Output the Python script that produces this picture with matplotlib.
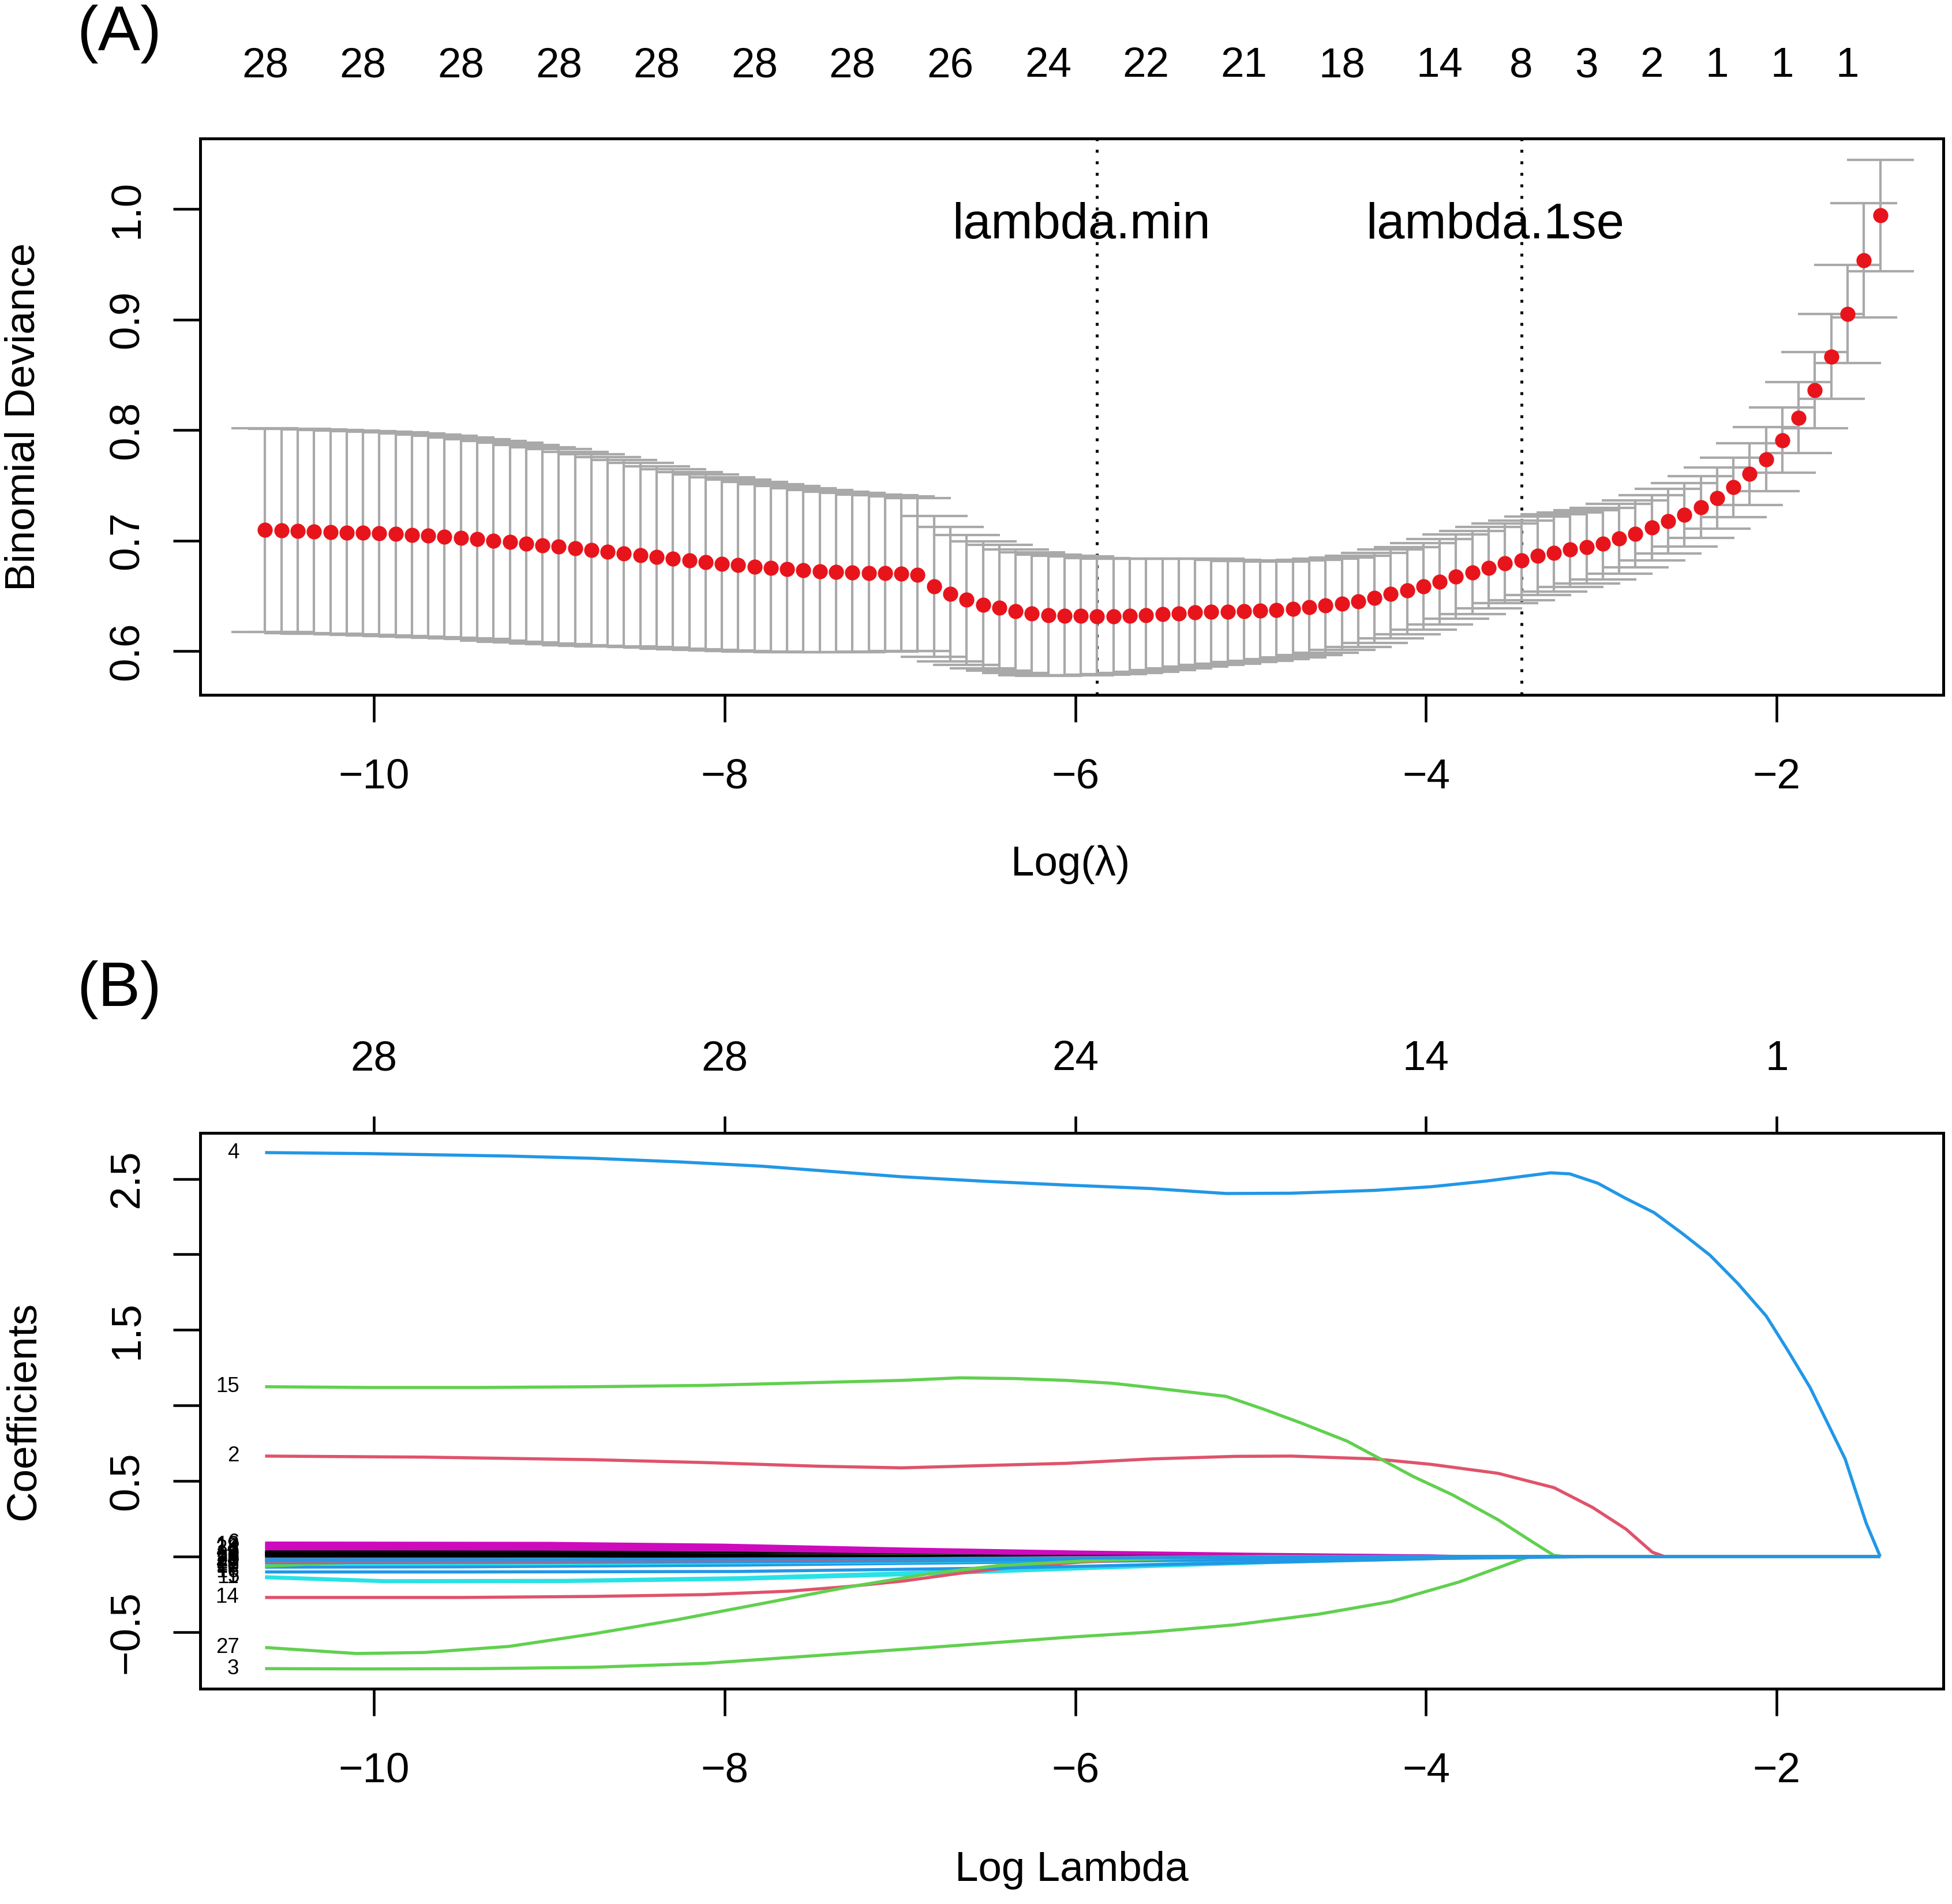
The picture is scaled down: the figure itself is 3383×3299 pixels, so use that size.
import numpy as np
import matplotlib
matplotlib.use("Agg")
import matplotlib.pyplot as plt

plt.rcParams['font.family'] = ['Liberation Sans', 'DejaVu Sans']

# ---------------- data: cross-validation curve (panel A) ----------------
LOG_LAMBDA_START = -10.62
LOG_LAMBDA_END = -1.41
N_LAMBDA = 100
log_lambda = np.linspace(LOG_LAMBDA_START, LOG_LAMBDA_END, N_LAMBDA)

cv_mean = [
    0.7096, 0.7092, 0.7087, 0.7081, 0.7078, 0.7073, 0.7069, 0.7064, 0.7059, 0.7052,
    0.7043, 0.7034, 0.7024, 0.7014, 0.6999, 0.6986, 0.6972, 0.6958, 0.6944, 0.6930,
    0.6916, 0.6900, 0.6885, 0.6869, 0.6852, 0.6834, 0.6819, 0.6805, 0.6791, 0.6777,
    0.6765, 0.6753, 0.6742, 0.6732, 0.6724, 0.6718, 0.6712, 0.6707, 0.6704, 0.6699,
    0.6691, 0.6585, 0.6516, 0.6465, 0.6417, 0.6391, 0.6361, 0.6338, 0.6324, 0.6322,
    0.6318, 0.6315, 0.6316, 0.6320, 0.6324, 0.6333, 0.6342, 0.6350, 0.6356, 0.6357,
    0.6359, 0.6364, 0.6370, 0.6382, 0.6396, 0.6411, 0.6429, 0.6451, 0.6481, 0.6516,
    0.6547, 0.6585, 0.6628, 0.6673, 0.6712, 0.6754, 0.6793, 0.6823, 0.6862, 0.6889,
    0.6919, 0.6943, 0.6973, 0.7018, 0.7063, 0.7116, 0.7177, 0.7233, 0.7302, 0.7383,
    0.7482, 0.7602, 0.7737, 0.7908, 0.8112, 0.8361, 0.8666, 0.9050, 0.9536, 0.9941,
]
cv_sd = [
    0.0921, 0.0920, 0.0922, 0.0923, 0.0922, 0.0923, 0.0922, 0.0921, 0.0920, 0.0918,
    0.0916, 0.0913, 0.0909, 0.0905, 0.0903, 0.0899, 0.0895, 0.0888, 0.0882, 0.0875,
    0.0866, 0.0856, 0.0843, 0.0834, 0.0822, 0.0812, 0.0802, 0.0792, 0.0783, 0.0776,
    0.0767, 0.0759, 0.0751, 0.0743, 0.0735, 0.0726, 0.0720, 0.0711, 0.0707, 0.0699,
    0.0692, 0.0638, 0.0607, 0.0587, 0.0574, 0.0570, 0.0561, 0.0555, 0.0548, 0.0542,
    0.0538, 0.0529, 0.0523, 0.0517, 0.0510, 0.0505, 0.0497, 0.0489, 0.0479, 0.0470,
    0.0459, 0.0451, 0.0442, 0.0437, 0.0432, 0.0426, 0.0420, 0.0414, 0.0408, 0.0402,
    0.0396, 0.0390, 0.0385, 0.0382, 0.0375, 0.0367, 0.0360, 0.0360, 0.0357, 0.0349,
    0.0337, 0.0330, 0.0324, 0.0315, 0.0303, 0.0295, 0.0292, 0.0289, 0.0280, 0.0277,
    0.0270, 0.0278, 0.0288, 0.0295, 0.0322, 0.0345, 0.0382, 0.0442, 0.0519, 0.0505,
]
IDX_MIN = 51
IDX_1SE = 77

# number of non-zero coefficients shown on the top axis of panel A
nz_label_idx = [0, 6, 12, 18, 24, 30, 36, 42, 48, 54, 60, 66, 72, 77, 81, 85, 89, 93, 97]
nz_labels = [28, 28, 28, 28, 28, 28, 28, 26, 24, 22, 21, 18, 14, 8, 3, 2, 1, 1, 1]

# ---------------- data: coefficient paths (panel B) ----------------
b_top_ticks = [-10, -8, -6, -4, -2]
b_top_df = [28, 28, 24, 14, 1]

coef_4 = ([-10.62, -10.03, -9.23, -8.75, -8.27, -7.79, -7.47, -6.99, -6.50, -6.05, -5.57,
           -5.14, -4.77, -4.29, -3.97, -3.66, -3.29, -3.18, -3.02, -2.86, -2.70, -2.54,
           -2.38, -2.22, -2.06, -1.94, -1.81, -1.71, -1.61, -1.49, -1.41],
          [2.674, 2.667, 2.651, 2.636, 2.613, 2.584, 2.556, 2.514, 2.483, 2.459, 2.436,
           2.403, 2.405, 2.424, 2.448, 2.485, 2.540, 2.533, 2.471, 2.370, 2.277, 2.140,
           1.994, 1.805, 1.592, 1.370, 1.119, 0.883, 0.646, 0.221, 0.0])
coef_15 = ([-10.62, -10.03, -9.39, -8.75, -8.11, -7.47, -6.99, -6.66, -6.34, -6.05, -5.79,
            -5.57, -5.14, -4.93, -4.71, -4.45, -4.26, -4.07, -3.85, -3.59, -3.40, -3.27, -3.21],
           [1.124, 1.119, 1.119, 1.124, 1.133, 1.152, 1.166, 1.183, 1.178, 1.166, 1.147,
            1.119, 1.060, 0.977, 0.883, 0.764, 0.646, 0.528, 0.409, 0.244, 0.102, 0.007, 0.0])
coef_2 = ([-10.62, -9.71, -8.75, -8.11, -7.47, -6.99, -6.50, -6.05, -5.57, -5.09, -4.77,
           -4.29, -3.97, -3.59, -3.27, -3.05, -2.86, -2.71, -2.64],
          [0.665, 0.658, 0.641, 0.622, 0.598, 0.587, 0.603, 0.617, 0.646, 0.663, 0.665,
           0.646, 0.610, 0.551, 0.456, 0.325, 0.182, 0.029, 0.0])
coef_27 = ([-10.62, -10.10, -9.71, -9.23, -8.75, -8.27, -7.79, -7.31, -6.82, -6.44, -5.96,
            -5.41, -4.90],
           [-0.602, -0.642, -0.635, -0.595, -0.512, -0.418, -0.312, -0.205, -0.111, -0.060,
            -0.030, -0.010, 0.0])
coef_3 = ([-10.62, -10.03, -9.39, -8.75, -8.11, -7.47, -6.82, -6.05, -5.57, -5.09, -4.61,
           -4.20, -3.81, -3.56, -3.45, -3.40],
          [-0.742, -0.744, -0.742, -0.733, -0.707, -0.655, -0.601, -0.535, -0.500, -0.452,
           -0.381, -0.298, -0.168, -0.062, -0.015, 0.0])
coef_14 = ([-10.62, -9.50, -8.75, -8.11, -7.63, -7.31, -6.98, -6.66, -6.34, -5.96, -5.40, -4.90],
           [-0.271, -0.271, -0.264, -0.252, -0.229, -0.200, -0.162, -0.111, -0.069, -0.036,
            -0.010, 0.0])

coef_small = {
    1:  ([-10.62, -9.0, -8.0, -7.0, -6.0], [0.032, 0.031, 0.026, 0.014, 0.0]),
    5:  ([-10.62, -9.94, -8.9, -7.9, -6.9, -5.9, -4.9, -3.9, -3.35],
         [-0.134, -0.160, -0.158, -0.140, -0.105, -0.065, -0.030, -0.008, 0.0]),
    6:  ([-10.62, -9.0, -8.0, -7.0, -6.0, -5.0, -4.0, -3.9],
         [0.089, 0.087, 0.075, 0.050, 0.030, 0.015, 0.004, 0.0]),
    7:  ([-10.62, -9.0, -8.0, -7.0, -6.0, -5.0, -4.7],
         [0.025, 0.025, 0.022, 0.016, 0.009, 0.003, 0.0]),
    8:  ([-10.62, -9.0, -8.0, -7.0, -6.0, -5.0, -4.0],
         [-0.008, -0.008, -0.007, -0.006, -0.004, -0.002, 0.0]),
    9:  ([-10.62, -9.0, -8.0, -7.0, -6.3], [0.012, 0.012, 0.010, 0.004, 0.0]),
    10: ([-10.62, -9.5, -7.93, -5.91, -4.40, -3.65, -3.30],
         [-0.070, -0.068, -0.057, -0.032, -0.013, -0.004, 0.0]),
    11: ([-10.62, -9.94, -8.9, -7.9, -6.9, -5.9, -4.9, -3.9, -3.25],
         [-0.140, -0.166, -0.165, -0.150, -0.118, -0.078, -0.040, -0.012, 0.0]),
    12: ([-10.62, -9.0, -8.0, -7.0, -6.0, -5.0, -4.0, -3.8],
         [0.076, 0.074, 0.064, 0.043, 0.025, 0.012, 0.003, 0.0]),
    13: ([-10.62, -9.0, -8.0, -7.0], [0.020, 0.018, 0.010, 0.0]),
    16: ([-10.62, -9.5, -7.93, -6.42, -4.91, -3.9, -3.0],
         [-0.102, -0.102, -0.099, -0.076, -0.038, -0.012, 0.0]),
    17: ([-10.62, -9.0, -7.0, -5.0, -4.2], [-0.050, -0.048, -0.035, -0.012, 0.0]),
    18: ([-10.62, -9.0, -8.0, -7.0, -6.0, -5.0, -4.0, -3.7],
         [0.064, 0.062, 0.054, 0.036, 0.021, 0.010, 0.002, 0.0]),
    19: ([-10.62, -9.0, -8.0, -7.0, -6.6], [0.010, 0.009, 0.006, 0.002, 0.0]),
    20: ([-10.62, -9.0, -8.0, -7.0, -6.0, -5.0, -4.4],
         [-0.018, -0.018, -0.016, -0.012, -0.007, -0.003, 0.0]),
    21: ([-10.62, -9.94, -8.93, -7.9, -6.9, -5.0, -3.55],
         [-0.064, -0.028, -0.015, -0.008, -0.004, -0.002, 0.0]),
    22: ([-10.62, -9.0, -7.0, -5.0, -4.0, -3.5], [-0.040, -0.038, -0.030, -0.015, -0.005, 0.0]),
    23: ([-10.62, -9.0, -7.0, -5.8], [-0.030, -0.028, -0.015, 0.0]),
    24: ([-10.62, -9.0, -8.0, -7.0, -6.0, -5.0, -4.0, -3.6],
         [0.051, 0.050, 0.044, 0.030, 0.017, 0.008, 0.002, 0.0]),
    25: ([-10.62, -9.0, -8.0, -6.8], [0.004, 0.004, 0.002, 0.0]),
    26: ([-10.62, -9.0, -8.0, -7.0, -6.0, -5.3], [-0.030, -0.030, -0.026, -0.016, -0.006, 0.0]),
    28: ([-10.62, -9.0, -7.0, -5.0, -4.3], [-0.020, -0.019, -0.014, -0.005, 0.0]),
}
coef_paths = dict(coef_small)
coef_paths.update({2: coef_2, 3: coef_3, 4: coef_4, 14: coef_14, 15: coef_15, 27: coef_27})

# R matplot default colours 1:6
PALETTE = ['#000000', '#DF536B', '#61D04F', '#2297E6', '#28E2E5', '#CD0BBC']

# ---------------- figure ----------------
W, H = 3383, 3299
DPI = 300
fig = plt.figure(figsize=(W / DPI, H / DPI), dpi=DPI)
fig.patch.set_facecolor('white')

FS = 17.5
XLIM = (-10.99, -1.05)
LEFT, WIDTH = 347 / W, (3368 - 347) / W


def style_axes(ax):
    for s in ax.spines.values():
        s.set_linewidth(1.2)
        s.set_color('black')
    ax.tick_params(direction='out', length=11.3, width=1.1, labelsize=FS, colors='black')
    ax.tick_params(axis='x', pad=15.0)
    ax.tick_params(axis='y', pad=11.0)
    ax.set_xlim(*XLIM)


# ---- Panel A ----
axA = fig.add_axes([LEFT, 1 - 1204 / H, WIDTH, (1204 - 240) / H])
style_axes(axA)
axA.set_ylim(0.5604, 1.0638)
axA.set_xticks([-10, -8, -6, -4, -2])
axA.set_yticks([0.6, 0.7, 0.8, 0.9, 1.0])
axA.set_yticklabels(['0.6', '0.7', '0.8', '0.9', '1.0'], rotation=90, va='center')

axA.errorbar(log_lambda, cv_mean, yerr=cv_sd, fmt='none', ecolor='#A9A9A9',
             elinewidth=1.0, capsize=14, capthick=1.0, zorder=2)
axA.plot(log_lambda, cv_mean, 'o', color='#E8141C', ms=6.3, mec='none', zorder=3)

for idx in (IDX_MIN, IDX_1SE):
    axA.axvline(log_lambda[idx], color='black', lw=1.2, ls=(0, (1, 3)), zorder=1)
axA.text(log_lambda[IDX_MIN] - 0.09, 0.985, 'lambda.min', ha='center', va='center',
         fontsize=20.8)
axA.text(log_lambda[IDX_1SE] - 0.15, 0.985, 'lambda.1se', ha='center', va='center',
         fontsize=20.8)

secA = axA.secondary_xaxis('top')
secA.set_xticks(log_lambda[nz_label_idx], labels=[str(n) for n in nz_labels])
secA.tick_params(length=0, pad=22.0, labelsize=FS)
for s in secA.spines.values():
    s.set_visible(False)

# ---- Panel B ----
axB = fig.add_axes([LEFT, 1 - 2926 / H, WIDTH, (2926 - 1963) / H])
style_axes(axB)
axB.set_ylim(-0.875, 2.804)
axB.set_xticks([-10, -8, -6, -4, -2])
axB.set_yticks([-0.5, 0.0, 0.5, 1.0, 1.5, 2.0, 2.5])
axB.set_yticklabels(['\u22120.5', '', '0.5', '', '1.5', '', '2.5'], rotation=90, va='center')

for k in sorted(coef_paths):
    xs, ys = coef_paths[k]
    xs = list(xs)
    ys = list(ys)
    if xs[-1] < LOG_LAMBDA_END:
        xs.append(LOG_LAMBDA_END)
        ys.append(0.0)
    axB.plot(xs, ys, color=PALETTE[(k - 1) % 6], lw=1.3, solid_joinstyle='round',
             solid_capstyle='butt', zorder=2)

for k in sorted(coef_paths):
    xs, ys = coef_paths[k]
    axB.annotate(str(k), xy=(xs[0], ys[0]), xytext=(-10.8, 0), textcoords='offset points',
                 ha='right', va='center', fontsize=8.8)

secB = axB.secondary_xaxis('top')
secB.set_xticks(b_top_ticks, labels=[str(n) for n in b_top_df])
secB.tick_params(direction='out', length=7, width=1.1, pad=15.5, labelsize=FS)
for s in secB.spines.values():
    s.set_visible(False)

# ---- axis titles and panel tags ----
fig.text(41 / W, 1 - 722 / H, 'Binomial Deviance', rotation=90, ha='center', va='center',
         fontsize=FS)
fig.text(41 / W, 1 - 2444 / H, 'Coefficients', rotation=90, ha='center', va='center',
         fontsize=FS)
fig.text(1855 / W, 1 - 1498 / H, 'Log(\u03bb)', ha='center', va='center', fontsize=FS)
fig.text(1857 / W, 1 - 3240 / H, 'Log Lambda', ha='center', va='center', fontsize=FS)
fig.text(207 / W, 1 - 59 / H, '(A)', ha='center', va='center', fontsize=26.4)
fig.text(207 / W, 1 - 1715 / H, '(B)', ha='center', va='center', fontsize=26.4)

fig.savefig('out.png', dpi=DPI, facecolor='white')
